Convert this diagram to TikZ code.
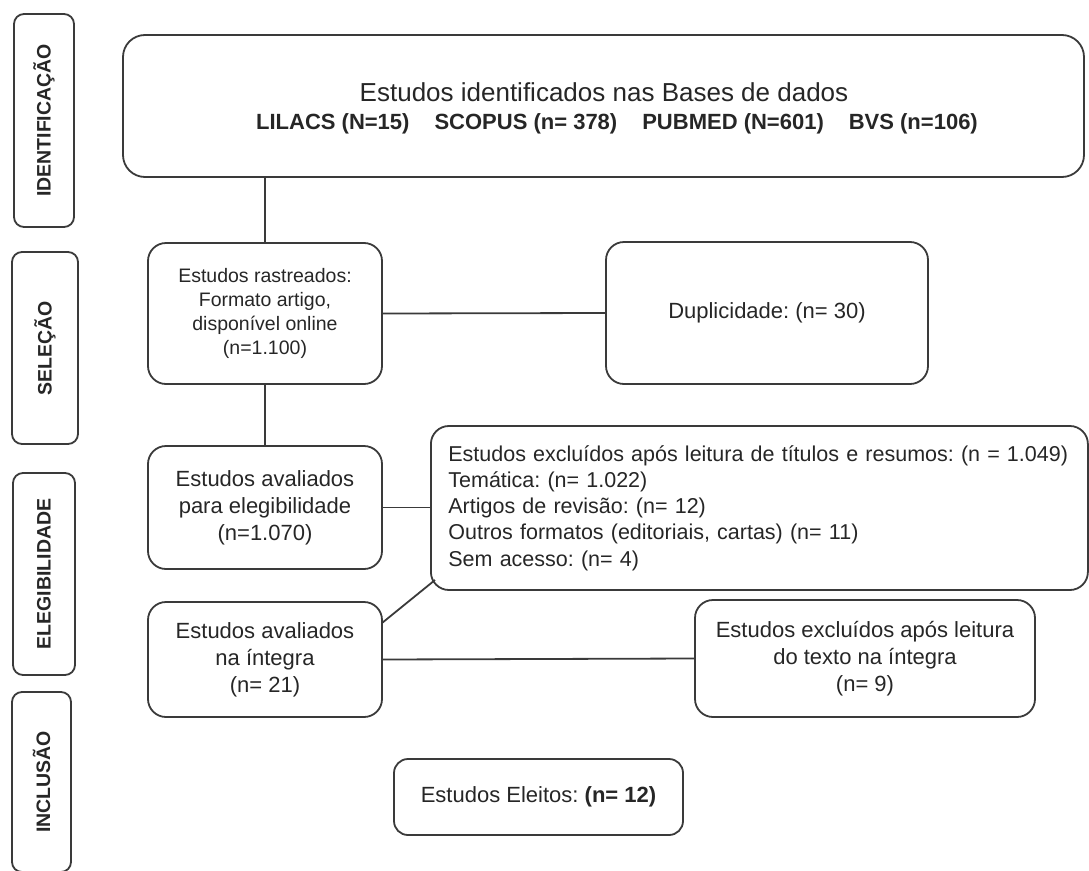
\documentclass[tikz,border=0pt]{standalone}
\usepackage{fontspec}
\setmainfont{Liberation Sans}
\definecolor{ink}{HTML}{262626}
\definecolor{edge}{HTML}{3A3A3A}
\begin{document}
\frenchspacing
\begin{tikzpicture}[x=1pt,y=-1pt,
  box/.style={draw=edge, line width=1.8pt, rounded corners=18pt, text=ink, inner sep=0pt, align=center},
  side/.style={draw=edge, line width=1.8pt, rounded corners=10pt, text=ink, inner sep=0pt, rotate=90,
    font=\fontsize{19.5}{22}\selectfont\bfseries},
  conn/.style={draw=edge, line width=1.8pt},
  body/.style={font=\fontsize{22}{27}\selectfont},
  small/.style={font=\fontsize{19.5}{24}\selectfont}
]
\useasboundingbox (0,0) rectangle (1089,870);

% stage labels
\node[side, minimum width=213pt, minimum height=60pt] (s1) at (44,120.5) {IDENTIFICAÇÃO};
\node[side, minimum width=192pt, minimum height=66pt] (s2) at (45,348) {SELEÇÃO};
\node[side, minimum width=202pt, minimum height=62pt] (s3) at (44,574) {ELEGIBILIDADE};
\node[side, minimum width=180pt, minimum height=59pt] (s4) at (41.5,782) {INCLUSÃO};

% databases
\node[box, rounded corners=22pt, minimum width=961pt, minimum height=142pt] (db) at (603.5,106) {};
\node[text=ink, font=\fontsize{26}{30}\selectfont, inner sep=0pt] (dbt) at (604,92) {Estudos identificados nas Bases de dados};
\node[text=ink, font=\fontsize{22}{26}\selectfont\bfseries, inner sep=0pt] (dbn) at (617,124)
  {LILACS (N=15)\hspace{25pt}SCOPUS (n= 378)\hspace{25pt}PUBMED (N=601)\hspace{25pt}BVS (n=106)};

% screening
\node[box, small, minimum width=234pt, minimum height=141pt] (scr) at (265,313.5)
  {Estudos rastreados:\\Formato artigo,\\disponível online\\(n=1.100)};
\node[box, body, minimum width=322pt, minimum height=142pt] (dup) at (767,313) {Duplicidade: (n= 30)};

% eligibility
\node[box, font=\fontsize{21.5}{26.2}\selectfont, anchor=west, minimum width=657pt, minimum height=164pt,
  text width=622pt, inner xsep=17.5pt, align=left] (exc) at (430,508)
  {\mbox{Estudos excluídos após leitura de títulos e resumos: (n = 1.049)}\\
   \mbox{Temática: (n= 1.022)}\\
   \mbox{Artigos de revisão: (n= 12)}\\
   \mbox{Outros formatos (editoriais, cartas) (n= 11)}\\
   \mbox{Sem acesso: (n= 4)}};
\node[box, body, minimum width=234pt, minimum height=123pt] (elig) at (265,507.5)
  {Estudos avaliados\\para elegibilidade\\(n=1.070)};
\node[box, body, minimum width=234pt, minimum height=115pt] (integ) at (265,659.5)
  {Estudos avaliados\\na íntegra\\(n= 21)};
\node[box, body, minimum width=340pt, minimum height=117pt] (exc2) at (865,658.5)
  {Estudos excluídos após leitura\\do texto na íntegra\\(n= 9)};

% inclusion
\node[box, body, rounded corners=14pt, minimum width=289pt, minimum height=76pt] (fin) at (538.5,797)
  {Estudos Eleitos: \textbf{(n= 12)}};

% connectors
\coordinate (d1) at (382,623);
\coordinate (d2) at (435,580);
\draw[conn] (db.south -| scr.north) -- (scr.north);
\draw[conn] (scr.east) -- (dup.west);
\draw[conn] (scr.south) -- (elig.north);
\draw[conn] (elig.east) -- (exc.west |- elig.east);
\draw[conn] (d1) -- (d2);
\draw[conn] (integ.east) -- (exc2.west);
\end{tikzpicture}
\end{document}
